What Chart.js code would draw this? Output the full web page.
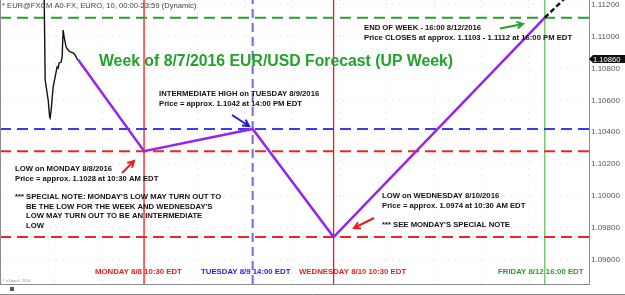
<!DOCTYPE html>
<html>
<head>
<meta charset="utf-8">
<script src="https://cdn.jsdelivr.net/npm/chart.js@4.4.1/dist/chart.umd.min.js"></script>
<style>
  html, body { margin: 0; padding: 0; background: #fff; }
  #wrap { width: 625px; height: 295px; position: relative; }
</style>
</head>
<body>
<div id="wrap"><canvas id="fxChart"></canvas></div>
<script>
// x values are hours from Monday 8/8/2016 00:00, y values are EUR/USD
const priceHours = [-14.82, -14.56, -13.80, -13.42, -13.30, -13.04, -12.54, -12.03, -11.53, -11.27, -11.02,
                    -10.51, -10.26, -10.01, -9.75, -9.25, -8.74, -8.23, -7.47, -6.97, -6.46, -6.21];
const priceValues = [1.1127, 1.10728, 1.10602, 1.10495, 1.10489, 1.10539, 1.10684, 1.10747, 1.10810, 1.10803, 1.10835,
                     1.10841, 1.10873, 1.11042, 1.10998, 1.10935, 1.10917, 1.10904, 1.10898, 1.10885, 1.10860, 1.10855];

// forecast path: now -> Mon low -> Tue high -> Wed low -> Fri close
const forecastHours = [-6.21, 10.5, 38, 58.5, 112];
const forecastValues = [1.10855, 1.1028, 1.1042, 1.0974, 1.1112];

// trend continuation past Friday
const extensionHours = [112, 126];
const extensionValues = [1.1112, 1.11456];

// key levels
const levelValues = [1.1112, 1.1042, 1.1028, 1.0974];
const levelColors = ['#2c9f2c', '#3b3bf2', '#f02424', '#f02424'];

// key times
const markerHours = [10.5, 38, 58.5, 112];
const markerLabels = ['MONDAY 8/8 10:30 EDT', 'TUESDAY 8/9 14:00 EDT', 'WEDNESDAY 8/10 10:30 EDT', 'FRIDAY 8/12 16:00 EDT'];
const markerColors = ['#f26464', '#6a6af2', '#e41e1e', '#62c062'];
const markerTextColors = ['#ee1c1c', '#1c1ce6', '#ee1c1c', '#2a9e2a'];

const yTicks = [1.096, 1.098, 1.100, 1.102, 1.104, 1.106, 1.108, 1.110, 1.112];
const lastPrice = 1.1086;

const xMin = -26, xMax = 123.2;
const yMin = 1.09445, yMax = 1.11231;

const FONT = "'Liberation Sans', Arial, sans-serif";

const datasets = [];
datasets.push({
    data: forecastHours.map((h, i) => ({ x: h, y: forecastValues[i] })),
    borderColor: '#9a22ee', borderWidth: 2.5
});
datasets.push({
    data: priceHours.map((h, i) => ({ x: h, y: priceValues[i] })),
    borderColor: '#111', borderWidth: 1.4
});
datasets.push({
    data: extensionHours.map((h, i) => ({ x: h, y: extensionValues[i] })),
    borderColor: '#111', borderWidth: 2.5, borderDash: [5, 3]
});
levelValues.forEach(function(v, i) {
    datasets.push({
        data: [{ x: xMin, y: v }, { x: xMax, y: v }],
        borderColor: levelColors[i], borderWidth: 2, borderDash: [11, 6]
    });
});
markerHours.forEach(function(h, i) {
    datasets.push({
        data: [{ x: h, y: yMin }, { x: h, y: yMax }],
        borderColor: markerColors[i],
        borderWidth: i === 0 ? 2 : (i === 1 ? 2 : 1.3),
        borderDash: i === 1 ? [9, 5] : []
    });
});
datasets.forEach(function(d) {
    d.pointRadius = 0;
    d.tension = 0;
    d.fill = false;
    d.clip = 0;
});

function arrow(ctx, x1, y1, x2, y2, color) {
    const a = Math.atan2(y2 - y1, x2 - x1);
    const len = 7;
    ctx.save();
    ctx.strokeStyle = color;
    ctx.lineWidth = 2;
    ctx.beginPath();
    ctx.moveTo(x1, y1);
    ctx.lineTo(x2, y2);
    ctx.moveTo(x2 - len * Math.cos(a - 0.5), y2 - len * Math.sin(a - 0.5));
    ctx.lineTo(x2, y2);
    ctx.lineTo(x2 - len * Math.cos(a + 0.5), y2 - len * Math.sin(a + 0.5));
    ctx.stroke();
    ctx.restore();
}

const notes = [
    { x: 364, y: 27.7, lines: ['END OF WEEK - 16:00 8/12/2016', 'Price CLOSES at approx. 1.1103 - 1.1112 at 16:00 PM EDT'] },
    { x: 159, y: 94, lines: ['INTERMEDIATE HIGH on TUESDAY 8/9/2016', 'Price = approx. 1.1042 at 14:00 PM EDT'] },
    { x: 15, y: 169, lines: ['LOW on MONDAY 8/8/2016', 'Price = approx. 1.1028 at 10:30 AM EDT'] },
    { x: 382, y: 195.7, lines: ['LOW on WEDNESDAY 8/10/2016', 'Price = approx. 1.0974 at 10:30 AM EDT'] },
    { x: 382, y: 224.5, lines: ["*** SEE MONDAY'S SPECIAL NOTE"] },
    { x: 15, y: 196.7, lines: ["*** SPECIAL NOTE: MONDAY'S LOW MAY TURN OUT TO"] },
    { x: 26, y: 206.5, lines: ["BE THE LOW FOR THE WEEK AND WEDNESDAY'S", 'LOW MAY TURN OUT TO BE AN INTERMEDIATE', 'LOW'] }
];
const markerLabelX = [95, 201, 299, 498];

const overlay = {
    id: 'overlay',
    afterDraw(chart) {
        const ctx = chart.ctx;
        const area = chart.chartArea;
        const ys = chart.scales.y;
        ctx.save();

        // frame
        ctx.strokeStyle = '#8c8c8c';
        ctx.lineWidth = 1;
        ctx.beginPath();
        ctx.moveTo(0.5, 0);
        ctx.lineTo(0.5, area.bottom);
        ctx.moveTo(0, area.bottom + 0.5);
        ctx.lineTo(area.right, area.bottom + 0.5);
        ctx.moveTo(0, 294.5);
        ctx.lineTo(625, 294.5);
        ctx.stroke();
        ctx.fillStyle = '#999';
        ctx.font = '4px ' + FONT;
        ctx.textBaseline = 'middle';
        ctx.fillText('\u00a9 eSignal, 2016', 2, 281);
        ctx.fillStyle = '#555';
        ctx.fillRect(10, 287, 4, 4);

        // header
        ctx.fillStyle = '#444';
        ctx.font = '7.6px ' + FONT;
        ctx.fillText('* EUR@FXCM A0-FX, EURO, 10, 00:00-23:59 (Dynamic)', 2, 5.5);

        // title
        ctx.fillStyle = '#22a22a';
        ctx.font = 'bold 15.8px ' + FONT;
        ctx.fillText('Week of 8/7/2016 EUR/USD Forecast (UP Week)', 99, 62);

        // notes
        ctx.fillStyle = '#111';
        ctx.font = 'bold 7.7px ' + FONT;
        notes.forEach(function(n) {
            n.lines.forEach(function(t, k) {
                ctx.fillText(t, n.x, n.y + k * 9.8);
            });
        });

        // time labels
        ctx.font = 'bold 7.8px ' + FONT;
        markerLabels.forEach(function(t, i) {
            ctx.fillStyle = markerTextColors[i];
            ctx.fillText(t, markerLabelX[i], 272.3);
        });

        // arrows
        arrow(ctx, 122, 173, 134, 161, '#ee1c1c');
        arrow(ctx, 232, 115, 249, 126, '#1c1ce6');
        arrow(ctx, 374, 218, 354, 228, '#ee1c1c');
        arrow(ctx, 500, 28.5, 523, 24, '#2a9e2a');

        // last price tag
        const py = ys.getPixelForValue(lastPrice);
        const px = area.right;
        ctx.fillStyle = '#111';
        ctx.beginPath();
        ctx.moveTo(px, py);
        ctx.lineTo(px + 4, py - 4);
        ctx.lineTo(px + 36, py - 4);
        ctx.lineTo(px + 36, py + 4);
        ctx.lineTo(px + 4, py + 4);
        ctx.closePath();
        ctx.fill();
        ctx.fillStyle = '#fff';
        ctx.font = '7.6px ' + FONT;
        ctx.fillText(lastPrice.toFixed(5), px + 4, py + 0.5);

        ctx.restore();
    }
};

new Chart(document.getElementById('fxChart').getContext('2d'), {
    type: 'line',
    data: { datasets: datasets },
    plugins: [overlay],
    options: {
        responsive: true,
        maintainAspectRatio: false,
        animation: false,
        events: [],
        layout: { padding: { left: 0, top: 0, right: 0, bottom: 11 } },
        plugins: {
            legend: { display: false },
            tooltip: { enabled: false }
        },
        scales: {
            x: {
                type: 'linear',
                min: xMin,
                max: xMax,
                ticks: { display: false, stepSize: 12 },
                grid: { color: 'rgba(0,0,0,0.12)', drawTicks: false },
                border: { display: false, dash: [1, 6] },
                afterFit: function(s) { s.height = 0; s.paddingLeft = 0; s.paddingRight = 0; }
            },
            y: {
                type: 'linear',
                position: 'right',
                min: yMin,
                max: yMax,
                afterBuildTicks: function(s) { s.ticks = yTicks.map(v => ({ value: v })); },
                afterFit: function(s) { s.width = 36; s.paddingTop = 0; s.paddingBottom = 0; },
                ticks: {
                    font: { family: FONT, size: 8 },
                    color: '#555',
                    padding: 2,
                    callback: v => Number(v).toFixed(5)
                },
                grid: { color: 'rgba(0,0,0,0.12)', drawTicks: false },
                border: { color: '#8c8c8c', width: 1, dash: [1, 6] }
            }
        }
    }
});
</script>
</body>
</html>
